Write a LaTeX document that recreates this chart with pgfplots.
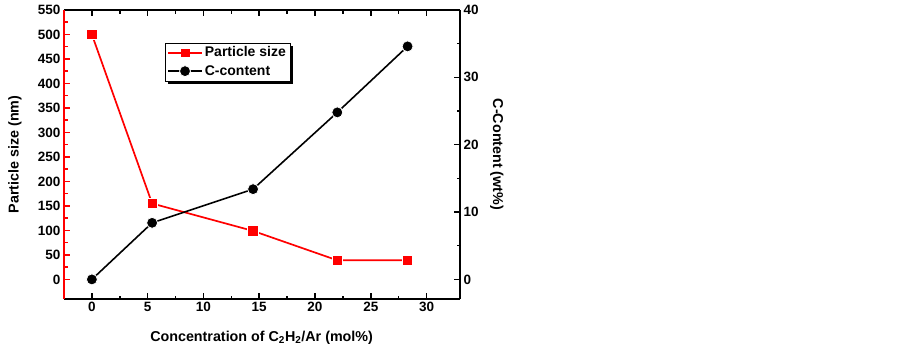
\documentclass[border=0pt]{standalone}
\usepackage{fontspec}
\setmainfont{Liberation Sans}
\usepackage{pgfplots}
\pgfplotsset{compat=1.18}
\usetikzlibrary{shadows}
\makeatletter
\tikzset{no preactions/.code={\let\tikz@preactions\pgfutil@empty}}
\makeatother
\pgfplotsset{
  common/.style={
    at={(0,0)}, anchor=south west,
    width=396pt, height=289pt, scale only axis,
    xmin=-2.5, xmax=33,
    tick align=inside,
    major tick length=6pt, minor tick length=3.5pt,
    every tick/.style={line width=1.5pt},
    axis line style={line width=1.8pt},
    /pgf/number format/assume math mode=true,
    ticklabel style={font=\bfseries\fontsize{13.5}{16}\selectfont},
    label style={font=\bfseries\fontsize{14.3}{17}\selectfont},
    legend image code/.code={\draw[no preactions, mark repeat=2,mark phase=2] plot coordinates {(0pt,0pt) (17pt,0pt) (34pt,0pt)};},
  }
}
\begin{document}
\begin{tikzpicture}[x=1pt,y=1pt]
\useasboundingbox (-64,-52) rectangle (839,299);
\begin{axis}[common,
  ymin=-40, ymax=550,
  axis y line*=left,
  y axis line style={red},
  ytick={0,50,...,550}, minor y tick num=1,
  y tick style={red},
  xtick={0,5,...,30}, minor x tick num=1,
  xlabel={Concentration of C\textsubscript{2}H\textsubscript{2}/Ar (mol\%)},
  ylabel={Particle size (nm)},
  xlabel style={at={(axis description cs:0.499,-0.135)}, anchor=center},
  ylabel style={at={(axis description cs:-0.1237,0.5)}, anchor=center},
]
\addplot[red, line width=1.7pt, mark=square*, mark size=5.2pt,
  mark options={fill=red, draw=white, line width=0.8pt}]
  coordinates {(0,500) (5.4,155) (14.45,99) (22.0,39) (28.3,39)};
\end{axis}
\begin{axis}[common,
  ymin=-2.909, ymax=40,
  axis x line=none,
  axis y line*=right,
  ytick={0,10,...,40}, minor y tick num=1,
  ylabel={C-Content (wt\%)},
  ylabel style={at={(axis description cs:1.0927,0.5)}, anchor=center, rotate=180},
  legend style={at={(0.255,0.887)}, anchor=north west, draw=black,
    fill=white, drop shadow={shadow xshift=3pt, shadow yshift=-3pt, fill=black, opacity=1},
    font=\bfseries\fontsize{14}{16}\selectfont, cells={anchor=west},
    inner sep=2pt, row sep=3pt},
]
\addlegendimage{red, line width=1.7pt, mark=square*, mark size=3.8pt, mark options={fill=red, line width=0.5pt}}
\addlegendentry{Particle size}
\addplot[black, line width=1.6pt, mark=*, mark size=5.5pt,
  mark options={fill=black, draw=white, line width=0.8pt}]
  coordinates {(0,0) (5.4,8.4) (14.45,13.4) (22.0,24.8) (28.3,34.6)};
\addlegendentry{C-content}
\end{axis}
\end{tikzpicture}
\end{document}
